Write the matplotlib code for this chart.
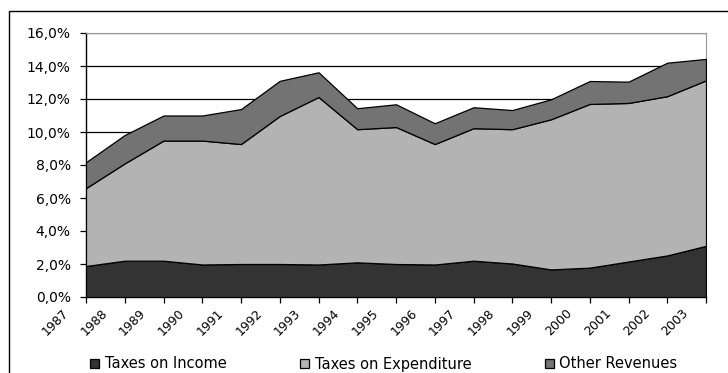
import matplotlib
matplotlib.use("Agg")
import matplotlib.pyplot as plt
import matplotlib.transforms as mtransforms
from matplotlib.patches import Rectangle
from matplotlib.ticker import FuncFormatter, MultipleLocator

# revenue shares, % of GDP
years = list(range(1987, 2004))
taxes_income = [1.88, 2.20, 2.20, 1.97, 2.00, 2.00, 1.97, 2.10, 2.00, 1.97,
                2.20, 2.03, 1.67, 1.78, 2.15, 2.52, 3.10]
taxes_expenditure = [4.72, 5.90, 7.28, 7.51, 7.27, 8.97, 10.15, 8.07, 8.30, 7.30,
                     8.03, 8.14, 9.10, 9.92, 9.61, 9.65, 10.03]
other_revenues = [1.57, 1.72, 1.52, 1.52, 2.12, 2.13, 1.50, 1.27, 1.38, 1.26,
                  1.27, 1.16, 1.21, 1.39, 1.29, 2.03, 1.30]
series_labels = ["Taxes on Income", "Taxes on Expenditure", "Other Revenues"]
colors = ["#333333", "#b3b3b3", "#737373"]

fig = plt.figure(figsize=(7.28, 3.73), dpi=100)
ax = fig.add_axes([86 / 728, 1 - 297 / 373, 620 / 728, 264 / 373])

polys = ax.stackplot(years, taxes_income, taxes_expenditure, other_revenues,
                     colors=colors, labels=series_labels,
                     edgecolor="black", linewidth=0.9, zorder=3)

ax.set_xlim(years[0], years[-1])
ax.set_ylim(0, 16)
ax.yaxis.set_major_locator(MultipleLocator(2))
ax.yaxis.set_major_formatter(FuncFormatter(lambda v, _: f"{v:.1f}%".replace(".", ",")))
ax.set_xticks(years)
ax.set_xticklabels([str(y) for y in years], rotation=45, ha="right", va="top")

ax.grid(axis="y", color="black", linewidth=0.9, zorder=1)
ax.set_axisbelow(True)
for side in ("top", "right"):
    ax.spines[side].set_color("#999999")
for side in ("left", "bottom"):
    ax.spines[side].set_color("black")
    ax.spines[side].set_linewidth(1.0)

ax.tick_params(axis="y", direction="out", length=4, width=0.9, pad=7, labelsize=10)
ax.tick_params(axis="x", direction="out", length=4, width=0.9, pad=3, labelsize=9)

# nudge rotated year labels to the left of their ticks
shift = mtransforms.ScaledTranslation(-0.15, 0, fig.dpi_scale_trans)
for lbl in ax.get_xticklabels():
    lbl.set_transform(lbl.get_transform() + shift)

fig.legend(handles=polys, labels=series_labels, loc="center left",
           bbox_to_anchor=(90 / 728, 1 - 364 / 373), ncol=3, frameon=False,
           fontsize=10.5, handlelength=0.6, handleheight=0.55,
           handletextpad=0.4, columnspacing=5.05, borderpad=0, borderaxespad=0)

# chart frame (only left and top edges fall inside the image)
fig.add_artist(Rectangle((9 / 728, -0.1), 1.0, 1.1 - 11 / 373, fill=False,
                         edgecolor="black", linewidth=1.0,
                         transform=fig.transFigure))

fig.savefig("out.png", dpi=100)
